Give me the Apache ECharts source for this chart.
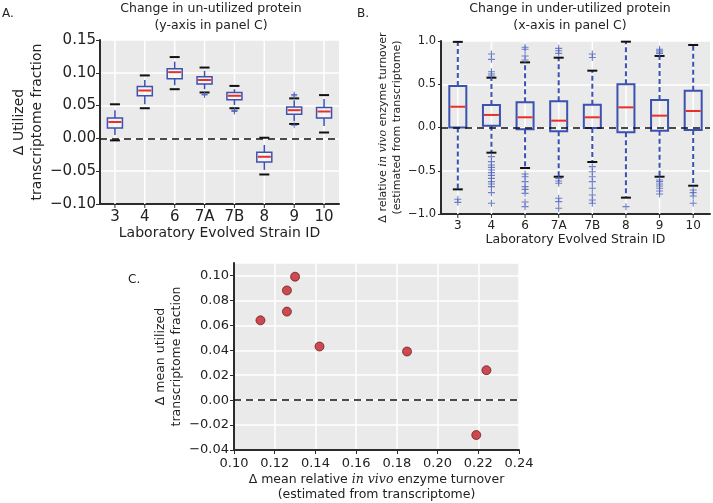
<!DOCTYPE html>
<html>
<head>
<meta charset="utf-8">
<script src="https://cdn.jsdelivr.net/npm/echarts@6/dist/echarts.min.js"></script>
<style>
  html, body { margin: 0; padding: 0; background: #fff; }
  #main { width: 713px; height: 503px; }
</style>
</head>
<body>
<div id="main"></div>
<script>
// strains
var cats = ['3', '4', '6', '7A', '7B', '8', '9', '10'];

// panel A: change in utilized transcriptome fraction
var aWhiskerLow  = [0.005, 0.052, 0.081, 0.075, 0.051, -0.048, 0.026, 0.019];
var aQ1          = [0.016, 0.065, 0.091, 0.083, 0.059, -0.036, 0.037, 0.031];
var aMedian      = [0.025, 0.073, 0.101, 0.089, 0.065, -0.028, 0.043, 0.041];
var aQ3          = [0.031, 0.079, 0.106, 0.094, 0.070, -0.021, 0.048, 0.047];
var aWhiskerHigh = [0.043, 0.089, 0.117, 0.103, 0.075, -0.010, 0.058, 0.060];
var aCapLow      = [-0.003, 0.046, 0.075, 0.070, 0.046, -0.055, 0.022, 0.009];
var aCapHigh     = [0.052, 0.096, 0.124, 0.108, 0.080, 0.001, 0.061, 0.066];
var aOutliers = [
    [], [], [], [0.067, 0.066], [0.043, 0.041, 0.042], [], [0.067, 0.065, 0.020], []
];

// panel B: change in relative in vivo enzyme turnover
var bQ1      = [0.00, 0.021, -0.021, -0.044, -0.006, -0.056, -0.037, -0.029];
var bMedian  = [0.24, 0.145, 0.118, 0.079, 0.118, 0.233, 0.137, 0.191];
var bQ3      = [0.48, 0.26, 0.291, 0.303, 0.264, 0.499, 0.318, 0.426];
var bCapLow  = [-0.715, -0.291, -0.468, -0.569, -0.399, -0.811, -0.569, -0.673];
var bCapHigh = [0.99, 0.576, 0.753, 0.807, 0.657, 0.992, 0.827, 0.954];
var bOutliers = [
    [-0.83, -0.865],
    [0.85, 0.788, 0.645, 0.618, 0.595, -0.337, -0.395, -0.434, -0.461, -0.491, -0.522, -0.553, -0.588, -0.626, -0.653, -0.684, -0.753, -0.876],
    [0.927, 0.904, 0.827, 0.78, -0.538, -0.569, -0.626, -0.684, -0.715, -0.761, -0.861, -0.915],
    [0.915, 0.888, 0.857, -0.59, -0.618, -0.645, -0.818, -0.857, -0.934],
    [0.85, 0.81, -0.453, -0.511, -0.569, -0.626, -0.703, -0.78, -0.838, -0.876],
    [-0.915],
    [0.904, 0.888, 0.873, 0.857, -0.607, -0.626, -0.653, -0.676, -0.703, -0.734, -0.769],
    [-0.723, -0.753, -0.792, -0.876]
];

// panel C: mean turnover vs mean utilized fraction
var cTurnover = [0.224, 0.126, 0.130, 0.126, 0.113, 0.219, 0.142, 0.185];
var cUtilized = [0.024, 0.071, 0.099, 0.088, 0.064, -0.028, 0.043, 0.039];

var FONT = 'DejaVu Sans';
var BLUE = '#3b52b0';
var BG = '#eaeaea';
var TXT = '#222';
var AXIS = '#2b2b2b';

function fmt(d) {
    return function (v) {
        if (Math.abs(v) < 1e-9) return (0).toFixed(d);
        return (v < 0 ? '\u2212' : '') + Math.abs(v).toFixed(d);
    };
}
function catLabel(v) {
    return Number.isInteger(v) ? cats[v - 1] : '';
}

function boxData(lo, q1, md, q3, hi, cl, ch) {
    return cats.map(function (c, i) {
        return [i + 1, lo[i], q1[i], md[i], q3[i], hi[i], cl[i], ch[i]];
    });
}
function outlierData(list) {
    var out = [];
    list.forEach(function (vals, i) {
        vals.forEach(function (v) { out.push([i + 1, v]); });
    });
    return out;
}

// box + whiskers + caps, with the white vertical grid line and x tick for each strain
function boxRender(o) {
    return function (params, api) {
        var x = api.value(0);
        var pt = function (k) { return api.coord([x, api.value(k)]); };
        var lo = pt(1), q1 = pt(2), md = pt(3), q3 = pt(4), hi = pt(5), cl = pt(6), ch = pt(7);
        var top = api.coord([x, o.yMax]), bot = api.coord([x, o.yMin]);
        var cx = q1[0], hw = o.boxW / 2, cw = o.capW / 2;
        var wStyle = {stroke: BLUE, lineWidth: o.lw, lineDash: o.dash, fill: null};
        return {
            type: 'group',
            children: [
                {type: 'line', shape: {x1: cx, y1: top[1], x2: cx, y2: bot[1]},
                    style: {stroke: '#fff', lineWidth: 1.5, fill: null}},
                {type: 'line', shape: {x1: cx, y1: bot[1] + 1, x2: cx, y2: bot[1] + 4},
                    style: {stroke: AXIS, lineWidth: 1, fill: null}},
                {type: 'line', shape: {x1: cx, y1: q3[1], x2: cx, y2: hi[1]}, style: wStyle},
                {type: 'line', shape: {x1: cx, y1: q1[1], x2: cx, y2: lo[1]}, style: wStyle},
                {type: 'rect', shape: {x: cx - hw, y: q3[1], width: o.boxW, height: q1[1] - q3[1]},
                    style: {fill: o.fill, stroke: BLUE, lineWidth: o.lw}},
                {type: 'line', shape: {x1: cx - hw + 1, y1: md[1], x2: cx + hw - 1, y2: md[1]},
                    style: {stroke: '#e8302a', lineWidth: 2}},
                {type: 'line', shape: {x1: cx - cw, y1: ch[1], x2: cx + cw, y2: ch[1]},
                    style: {stroke: '#111', lineWidth: 2}},
                {type: 'line', shape: {x1: cx - cw, y1: cl[1], x2: cx + cw, y2: cl[1]},
                    style: {stroke: '#111', lineWidth: 2}}
            ]
        };
    };
}

// dashed horizontal line at zero, one object per series
function zeroLine() {
    return {
        silent: true,
        symbol: ['none', 'none'],
        label: {show: false},
        lineStyle: {color: '#111', type: [7, 5], width: 1.6},
        emphasis: {disabled: true},
        data: [{yAxis: 0}]
    };
}
var plus = 'path://M0,4.2H10V5.8H0ZM4.2,0H5.8V10H4.2Z';

var myChart = echarts.init(document.getElementById('main'));

var option = {
    animation: false,
    textStyle: {fontFamily: FONT, color: TXT},
    graphic: [
        {type: 'text', x: 2, y: 8, style: {text: 'A.', fontSize: 12, fontFamily: FONT, fill: TXT}},
        {type: 'text', x: 357, y: 8, style: {text: 'B.', fontSize: 12, fontFamily: FONT, fill: TXT}},
        {type: 'text', x: 128, y: 274, style: {text: 'C.', fontSize: 12, fontFamily: FONT, fill: TXT}},
        {type: 'text', x: 211, y: 0, style: {
            text: 'Change in un-utilized protein\n(y-axis in panel C)',
            textAlign: 'center', fontSize: 12.5, lineHeight: 17, fontFamily: FONT, fill: TXT}},
        {type: 'text', x: 570, y: 0, style: {
            text: 'Change in under-utilized protein\n(x-axis in panel C)',
            textAlign: 'center', fontSize: 12.5, lineHeight: 17, fontFamily: FONT, fill: TXT}}
    ],
    grid: [
        {left: 100, top: 40, width: 239, height: 164, show: true, backgroundColor: BG, borderWidth: 0},
        {left: 441, top: 41, width: 269, height: 173, show: true, backgroundColor: BG, borderWidth: 0},
        {left: 234, top: 263, width: 285, height: 187, show: true, backgroundColor: BG, borderWidth: 0}
    ],
    xAxis: [
        {
            gridIndex: 0, type: 'value', min: 0.5, max: 8.5, minInterval: 1, maxInterval: 1,
            name: 'Laboratory Evolved Strain ID', nameLocation: 'middle', nameGap: 22,
            nameTextStyle: {fontSize: 14, color: TXT},
            axisLine: {onZero: false, lineStyle: {color: AXIS, width: 2}},
            axisTick: {show: false},
            axisLabel: {formatter: catLabel, fontSize: 15, color: TXT, margin: 6},
            splitLine: {show: false}
        },
        {
            gridIndex: 1, type: 'value', min: 0.5, max: 8.5, minInterval: 1, maxInterval: 1,
            name: 'Laboratory Evolved Strain ID', nameLocation: 'middle', nameGap: 18,
            nameTextStyle: {fontSize: 12.5, color: TXT},
            axisLine: {onZero: false, lineStyle: {color: AXIS, width: 2}},
            axisTick: {show: false},
            axisLabel: {formatter: catLabel, fontSize: 12, color: TXT, margin: 6},
            splitLine: {show: false}
        },
        {
            gridIndex: 2, type: 'value', min: 0.10, max: 0.24, interval: 0.02,
            name: '\u0394 mean relative {i|in vivo} enzyme turnover\n(estimated from transcriptome)',
            nameLocation: 'middle', nameGap: 22,
            nameTextStyle: {fontSize: 12.5, lineHeight: 15, color: TXT,
                rich: {i: {fontStyle: 'italic', fontFamily: 'DejaVu Serif', fontSize: 12.5}}},
            axisLine: {onZero: false, lineStyle: {color: AXIS, width: 2}},
            axisTick: {show: true, length: 4, lineStyle: {color: AXIS}},
            axisLabel: {formatter: fmt(2), fontSize: 13, color: TXT, margin: 7},
            splitLine: {show: true, lineStyle: {color: '#fff', width: 1.5}}
        }
    ],
    yAxis: [
        {
            gridIndex: 0, type: 'value', min: -0.10, max: 0.15, interval: 0.05,
            name: '\u0394 Utilized\ntranscriptome fraction', nameLocation: 'middle', nameGap: 52,
            nameTextStyle: {fontSize: 14, lineHeight: 18, color: TXT},
            axisLine: {show: true, onZero: false, lineStyle: {color: AXIS, width: 2}},
            axisTick: {show: true, length: 4, lineStyle: {color: AXIS}},
            axisLabel: {formatter: fmt(2), fontSize: 15, color: TXT, margin: 4},
            splitLine: {show: true, lineStyle: {color: '#fff', width: 1.5}}
        },
        {
            gridIndex: 1, type: 'value', min: -1, max: 1, interval: 0.5,
            name: '\u0394 relative {i|in vivo} enzyme turnover\n(estimated from transcriptome)',
            nameLocation: 'middle', nameGap: 36,
            nameTextStyle: {fontSize: 11, lineHeight: 14, color: TXT,
                rich: {i: {fontStyle: 'italic', fontFamily: 'DejaVu Serif', fontSize: 11}}},
            axisLine: {show: true, onZero: false, lineStyle: {color: AXIS, width: 2}},
            axisTick: {show: true, length: 3, lineStyle: {color: AXIS}},
            axisLabel: {formatter: fmt(1), fontSize: 11.5, color: TXT, margin: 5},
            splitLine: {show: true, lineStyle: {color: '#fff', width: 1.5}}
        },
        {
            gridIndex: 2, type: 'value', min: -0.04, max: 0.11, interval: 0.02,
            name: '\u0394 mean utilized\ntranscriptome fraction', nameLocation: 'middle', nameGap: 49,
            nameTextStyle: {fontSize: 12.5, lineHeight: 16, color: TXT},
            axisLine: {show: true, onZero: false, lineStyle: {color: AXIS, width: 2}},
            axisTick: {show: true, length: 4, lineStyle: {color: AXIS}},
            axisLabel: {formatter: fmt(2), fontSize: 13, color: TXT, margin: 5, showMaxLabel: false},
            splitLine: {show: true, lineStyle: {color: '#fff', width: 1.5}}
        }
    ],
    series: [
        {
            type: 'custom', xAxisIndex: 0, yAxisIndex: 0,
            renderItem: boxRender({boxW: 15, capW: 10, lw: 1.5, dash: null, fill: 'rgba(255,255,255,0.45)',
                yMin: -0.10, yMax: 0.15}),
            encode: {x: 0, y: [1, 2, 3, 4, 5, 6, 7]},
            data: boxData(aWhiskerLow, aQ1, aMedian, aQ3, aWhiskerHigh, aCapLow, aCapHigh),
            markLine: zeroLine()
        },
        {
            type: 'scatter', xAxisIndex: 0, yAxisIndex: 0, symbol: plus, symbolSize: 6,
            itemStyle: {color: '#4d62bb', opacity: 0.85},
            data: outlierData(aOutliers)
        },
        {
            type: 'custom', xAxisIndex: 1, yAxisIndex: 1,
            renderItem: boxRender({boxW: 17, capW: 10, lw: 2, dash: [5, 3], fill: 'none',
                yMin: -1, yMax: 1}),
            encode: {x: 0, y: [1, 2, 3, 4, 5, 6, 7]},
            data: boxData(bCapLow, bQ1, bMedian, bQ3, bCapHigh, bCapLow, bCapHigh),
            markLine: zeroLine()
        },
        {
            type: 'scatter', xAxisIndex: 1, yAxisIndex: 1, symbol: plus, symbolSize: 7,
            itemStyle: {color: '#4f64bc', opacity: 0.8},
            data: outlierData(bOutliers)
        },
        {
            type: 'scatter', xAxisIndex: 2, yAxisIndex: 2, symbolSize: 9,
            itemStyle: {color: '#c62128', borderColor: '#4a0a0a', borderWidth: 0.8},
            data: cTurnover.map(function (t, i) { return [t, cUtilized[i]]; }),
            markLine: zeroLine(),
            z: 3
        }
    ]
};

myChart.setOption(option);
</script>
</body>
</html>
